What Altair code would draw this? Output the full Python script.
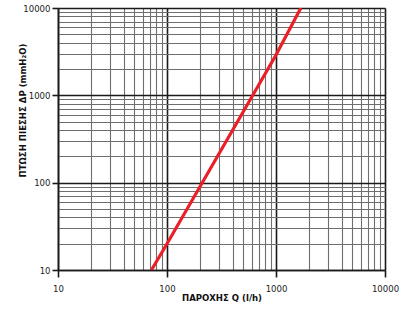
import altair as alt
import pandas as pd

# Pressure-drop line
flow_q = [72, 100, 1000, 1690]
drop_dp = [10, 20, 2900, 10000]

grid_values = [10, 20, 30, 40, 50, 60, 70, 80, 90,
               100, 200, 300, 400, 500, 600, 700, 800, 900,
               1000, 2000, 3000, 4000, 5000, 6000, 7000, 8000, 9000, 10000]
major_values = [10, 100, 1000, 10000]

df = pd.DataFrame({"q": flow_q, "dp": drop_dp})

major_test = "indexof([10, 100, 1000, 10000], datum.value) >= 0"
FONT = "DejaVu Sans Condensed, Liberation Sans Narrow, Roboto, sans-serif"

def axis_common(**kw):
    return alt.Axis(
        values=grid_values,
        format="d",
        labelExpr="indexof([10, 100, 1000, 10000], datum.value) >= 0 ? datum.label : ''",
        grid=True,
        gridColor={"condition": {"test": major_test, "value": "#1a1a1a"}, "value": "#6e6e6e"},
        gridWidth={"condition": {"test": major_test, "value": 1.6}, "value": 1.1},
        gridOpacity=1,
        tickColor="#1a1a1a",
        tickOpacity={"condition": {"test": major_test, "value": 1}, "value": 0},
        tickWidth=1.6,
        domainColor="#1a1a1a",
        domainWidth=1.6,
        labelFont=FONT,
        labelFontSize=9.5,
        labelColor="#222222",
        titleFont=FONT,
        titleFontSize=9.5,
        titleFontWeight="bold",
        titleColor="#111111",
        labelFlush=False,
        **kw,
    )

chart = alt.Chart(df).mark_line(color="#ea1f27", strokeWidth=3.2, clip=True).encode(
    x=alt.X("q:Q", scale=alt.Scale(type="log", domain=[10, 10000], nice=False),
            axis=axis_common(title="ΠΑΡΟΧΗΣ Q (l/h)", tickSize=7, labelPadding=6,
                             titleY=27, titleBaseline="middle")),
    y=alt.Y("dp:Q", scale=alt.Scale(type="log", domain=[10, 10000], nice=False),
            axis=axis_common(title="ΠΤΩΣΗ ΠΙΕΣΗΣ ΔP (mmH₂O)", tickSize=6, labelPadding=2,
                             titleX=-36, titleY=102, titleAngle=270,
                             titleAlign="center", titleBaseline="middle")),
).properties(
    width=327,
    height=262,
    autosize=alt.AutoSizeParams(type="none"),
    padding={"left": 58, "top": 8, "right": 35, "bottom": 40},
).configure_view(stroke=None).configure(background="white")

chart.save("out.html", embed_options={"renderer": "svg", "actions": False})
